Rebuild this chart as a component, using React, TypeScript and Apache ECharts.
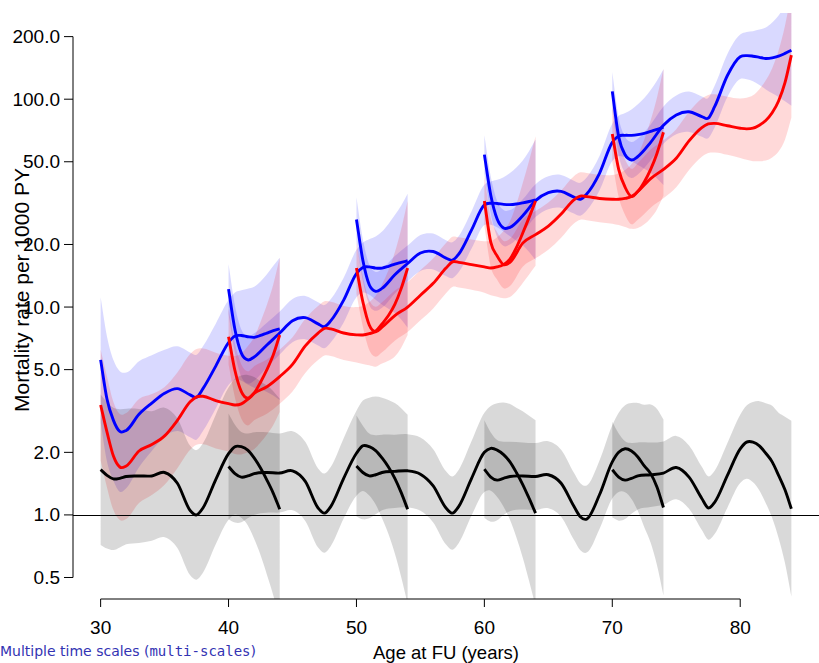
import React, { useEffect, useRef } from "react";
import * as echarts from "echarts";

// Entry ages of the five follow-up cohorts and the follow-up times (years since entry)
const entryAges = [30, 40, 50, 60, 70];
const followUp = [0, 0.5, 1, 1.5, 2, 3, 4, 5, 6, 7, 7.5, 8, 9, 10, 10.5, 11, 11.5, 12, 12.5, 13, 13.5, 14];

// Mortality rates per 1000 PY, blue group, one row per cohort
const rateBlue = [
  [5.57, 3.6, 2.85, 2.52, 2.55, 3.05, 3.45, 3.85, 4.05, 3.78, 3.68, 4.05, 5.2, 6.75, 7.25, 7.3, 7.2, 7.15, 7.3, 7.5, 7.7, 7.85],
  [12.2, 7.8, 6.0, 5.57, 5.75, 6.57, 7.5, 8.6, 8.9, 8.3, 8.05, 8.6, 10.8, 14.5, 15.5, 15.6, 15.4, 15.4, 15.7, 16.1, 16.4, 16.7],
  [26.4, 16.8, 12.8, 11.9, 12.3, 14.3, 16.2, 18.2, 18.5, 17.2, 16.8, 18.0, 23.5, 31.0, 31.6, 31.5, 31.2, 31.1, 31.3, 31.7, 32.2, 32.8],
  [54.1, 34.5, 26.5, 24.0, 24.2, 27.5, 32.5, 35.5, 36.0, 33.8, 33.0, 35.0, 44.0, 62.0, 66.5, 67.0, 67.0, 67.5, 68.5, 70.0, 71.5, 73.4],
  [109, 66, 54, 51, 53, 62, 75, 84, 87, 82.5, 81, 92, 130, 160, 162, 161, 159, 157, 158, 161, 166, 172],
];

// Mortality rates per 1000 PY, red group
const rateRed = [
  [3.38, 2.5, 1.92, 1.7, 1.72, 2.03, 2.18, 2.4, 2.85, 3.5, 3.7, 3.72, 3.55, 3.43, 3.38, 3.42, 3.6, 3.85, 4.35, 5.0, 5.9, 7.34],
  [7.2, 4.95, 3.92, 3.64, 3.85, 4.14, 4.63, 5.3, 6.5, 7.5, 7.9, 7.85, 7.5, 7.35, 7.34, 7.45, 7.65, 8.3, 9.1, 10.3, 12.3, 15.4],
  [15.4, 10.6, 8.2, 7.61, 8.0, 9.1, 10.0, 11.4, 13.0, 15.4, 16.5, 16.4, 16.0, 15.6, 15.4, 15.6, 16.0, 17.0, 19.3, 22.7, 27.0, 32.4],
  [32.4, 20.5, 17.6, 16.0, 16.4, 20.3, 22.3, 24.5, 28.0, 32.8, 34.2, 34.0, 33.3, 33.0, 33.0, 33.3, 34.0, 36.0, 40.0, 46.0, 55.0, 69.3],
  [68, 46, 37.7, 34.0, 36.0, 41.5, 46, 52, 63, 73, 76, 76.5, 74.5, 72.5, 72, 72.5, 75, 79, 86, 98, 120, 163],
];

// Rate ratio (blue / red)
const rateRatio = [
  [1.65, 1.55, 1.49, 1.5, 1.53, 1.54, 1.54, 1.6, 1.42, 1.05, 1.0, 1.08, 1.48, 1.97, 2.13, 2.13, 2.05, 1.88, 1.68, 1.47, 1.27, 1.065],
  [1.71, 1.58, 1.52, 1.54, 1.58, 1.6, 1.59, 1.63, 1.45, 1.08, 1.02, 1.1, 1.5, 1.98, 2.15, 2.13, 2.04, 1.88, 1.7, 1.5, 1.28, 1.065],
  [1.72, 1.6, 1.54, 1.56, 1.6, 1.62, 1.63, 1.57, 1.38, 1.08, 1.02, 1.1, 1.5, 2.0, 2.09, 2.05, 1.95, 1.8, 1.6, 1.4, 1.2, 1.02],
  [1.66, 1.52, 1.47, 1.5, 1.53, 1.54, 1.53, 1.56, 1.42, 1.1, 0.98, 0.955, 1.25, 1.8, 2.0, 2.08, 2.03, 1.9, 1.72, 1.58, 1.36, 1.085],
  [1.65, 1.52, 1.47, 1.5, 1.54, 1.56, 1.59, 1.69, 1.52, 1.2, 1.08, 1.15, 1.55, 2.08, 2.24, 2.24, 2.15, 1.98, 1.8, 1.55, 1.32, 1.07],
];

// Multiplicative half-widths of the 95% confidence bands (upper = est * w, lower = est / w)
const ciBlue = [
  [2.0, 2.0, 1.95, 1.95, 1.9, 1.8, 1.7, 1.62, 1.6, 1.6, 1.6, 1.6, 1.6, 1.6, 1.62, 1.65, 1.7, 1.75, 1.82, 1.92, 2.05, 2.2],
  [1.32, 1.3, 1.3, 1.3, 1.3, 1.28, 1.27, 1.27, 1.27, 1.27, 1.27, 1.27, 1.28, 1.3, 1.32, 1.36, 1.42, 1.5, 1.6, 1.72, 1.88, 2.1],
  [1.28, 1.26, 1.25, 1.24, 1.24, 1.23, 1.22, 1.22, 1.22, 1.22, 1.22, 1.22, 1.23, 1.25, 1.27, 1.3, 1.35, 1.42, 1.5, 1.6, 1.75, 1.95],
  [1.24, 1.23, 1.22, 1.22, 1.21, 1.2, 1.2, 1.2, 1.2, 1.2, 1.2, 1.2, 1.21, 1.23, 1.25, 1.28, 1.33, 1.4, 1.48, 1.58, 1.72, 1.9],
  [1.24, 1.23, 1.22, 1.22, 1.22, 1.22, 1.23, 1.24, 1.25, 1.25, 1.25, 1.26, 1.27, 1.28, 1.3, 1.32, 1.36, 1.41, 1.48, 1.57, 1.7, 1.85],
];
const ciRed = [
  [1.85, 1.85, 1.82, 1.8, 1.8, 1.78, 1.75, 1.72, 1.7, 1.7, 1.7, 1.7, 1.7, 1.7, 1.72, 1.75, 1.8, 1.86, 1.95, 2.05, 2.18, 2.35],
  [1.36, 1.35, 1.35, 1.35, 1.35, 1.35, 1.35, 1.35, 1.35, 1.35, 1.35, 1.35, 1.35, 1.36, 1.38, 1.42, 1.48, 1.55, 1.65, 1.78, 1.93, 2.1],
  [1.33, 1.32, 1.32, 1.32, 1.32, 1.32, 1.32, 1.32, 1.32, 1.32, 1.32, 1.32, 1.32, 1.33, 1.35, 1.39, 1.45, 1.52, 1.62, 1.74, 1.88, 2.05],
  [1.32, 1.31, 1.3, 1.3, 1.3, 1.3, 1.3, 1.3, 1.3, 1.3, 1.3, 1.3, 1.3, 1.31, 1.33, 1.37, 1.43, 1.5, 1.6, 1.72, 1.86, 2.02],
  [1.36, 1.36, 1.36, 1.36, 1.37, 1.38, 1.38, 1.38, 1.38, 1.38, 1.38, 1.38, 1.38, 1.39, 1.41, 1.44, 1.49, 1.56, 1.64, 1.75, 1.88, 2.0],
];
const ciRatio = [
  [2.3, 2.25, 2.2, 2.15, 2.12, 2.1, 2.05, 2.05, 2.05, 2.05, 2.05, 2.05, 2.05, 2.08, 2.12, 2.2, 2.3, 2.45, 2.62, 2.85, 3.1, 3.4],
  [1.8, 1.72, 1.65, 1.6, 1.58, 1.56, 1.55, 1.55, 1.55, 1.55, 1.55, 1.55, 1.56, 1.6, 1.65, 1.72, 1.82, 1.95, 2.1, 2.3, 2.55, 2.85],
  [1.75, 1.68, 1.6, 1.55, 1.52, 1.5, 1.5, 1.5, 1.5, 1.5, 1.5, 1.5, 1.51, 1.55, 1.6, 1.68, 1.78, 1.9, 2.05, 2.25, 2.5, 2.8],
  [1.72, 1.64, 1.56, 1.5, 1.47, 1.45, 1.45, 1.45, 1.45, 1.45, 1.45, 1.45, 1.46, 1.5, 1.55, 1.62, 1.7, 1.82, 1.97, 2.15, 2.38, 2.65],
  [1.7, 1.62, 1.54, 1.48, 1.45, 1.43, 1.42, 1.42, 1.42, 1.42, 1.42, 1.42, 1.43, 1.46, 1.5, 1.56, 1.64, 1.74, 1.86, 2.0, 2.25, 2.65],
];

// Axis ticks
const xTickValues = [30, 40, 50, 60, 70, 80];
const xTickLabels = ["30", "40", "50", "60", "70", "80"];
const yTickValues = [0.5, 1, 2, 5, 10, 20, 50, 100, 200];
const yTickLabels = ["0.5", "1.0", "2.0", "5.0", "10.0", "20.0", "50.0", "100.0", "200.0"];

// Plot limits (data range padded 4%)
const X_MIN = 27.84;
const X_MAX = 86.16;
const Y_MIN = 0.394;
const Y_MAX = 259.8;

const FONT = "'Liberation Sans', Arial, Helvetica, sans-serif";

type Piece = { start: number; est: number[]; w: number[]; fill: string; stroke: string };

const groups = [
  { rates: rateBlue, ci: ciBlue, fill: "rgba(0,0,255,0.15)", stroke: "#0000ff" },
  { rates: rateRed, ci: ciRed, fill: "rgba(255,0,0,0.15)", stroke: "#ff0000" },
  { rates: rateRatio, ci: ciRatio, fill: "rgba(0,0,0,0.15)", stroke: "#000000" },
];

const pieces: Piece[] = [];
groups.forEach((g) =>
  entryAges.forEach((start, p) =>
    pieces.push({ start, est: g.rates[p], w: g.ci[p], fill: g.fill, stroke: g.stroke })
  )
);
// estimates drawn with the ratio first, then blue, then red
const curveOrder = [10, 11, 12, 13, 14, 0, 1, 2, 3, 4, 5, 6, 7, 8, 9];

// Cubic Hermite path through pixel points (x-parametrised, three-point slopes)
function hermitePath(pts: number[][], lead: "M" | "L"): string {
  const n = pts.length;
  const m: number[] = [];
  for (let i = 0; i < n; i++) {
    if (i === 0) m.push((pts[1][1] - pts[0][1]) / (pts[1][0] - pts[0][0]));
    else if (i === n - 1) m.push((pts[n - 1][1] - pts[n - 2][1]) / (pts[n - 1][0] - pts[n - 2][0]));
    else {
      const h0 = pts[i][0] - pts[i - 1][0];
      const h1 = pts[i + 1][0] - pts[i][0];
      const s0 = (pts[i][1] - pts[i - 1][1]) / h0;
      const s1 = (pts[i + 1][1] - pts[i][1]) / h1;
      m.push((s0 * h1 + s1 * h0) / (h0 + h1));
    }
  }
  let d = `${lead}${pts[0][0]},${pts[0][1]}`;
  for (let i = 0; i < n - 1; i++) {
    const dx = pts[i + 1][0] - pts[i][0];
    d += ` C${pts[i][0] + dx / 3},${pts[i][1] + (m[i] * dx) / 3} ${pts[i + 1][0] - dx / 3},${pts[i + 1][1] - (m[i + 1] * dx) / 3} ${pts[i + 1][0]},${pts[i + 1][1]}`;
  }
  return d;
}

function renderBand(params: any, api: any) {
  const pc = pieces[params.dataIndex];
  const upper = followUp.map((t, i) => api.coord([pc.start + t, pc.est[i] * pc.w[i]]));
  const lower = followUp.map((t, i) => api.coord([pc.start + t, pc.est[i] / pc.w[i]])).reverse();
  const d = hermitePath(upper, "M") + " " + hermitePath(lower, "L") + " Z";
  return { type: "path", shape: { pathData: d }, style: { fill: pc.fill, lineWidth: 0 } };
}

function renderCurve(params: any, api: any) {
  const pc = pieces[curveOrder[params.dataIndex]];
  const pts = followUp.map((t, i) => api.coord([pc.start + t, pc.est[i]]));
  return {
    type: "path",
    shape: { pathData: hermitePath(pts, "M") },
    style: { fill: "none", stroke: pc.stroke, lineWidth: 2.9 },
  };
}

export default function App() {
  const ref = useRef<HTMLDivElement>(null);

  useEffect(() => {
    if (!ref.current) return;
    const chart = echarts.init(ref.current, null, { renderer: "svg" });
    chart.setOption({
      animation: false,
      backgroundColor: "#ffffff",
      grid: { left: 73, top: 13, width: 747, height: 586, containLabel: false },
      xAxis: {
        type: "value",
        min: X_MIN,
        max: X_MAX,
        axisLine: { show: false },
        axisTick: { show: false },
        axisLabel: { show: false },
        splitLine: { show: false },
      },
      yAxis: {
        type: "log",
        logBase: 10,
        min: Y_MIN,
        max: Y_MAX,
        axisLine: { show: false },
        axisTick: { show: false },
        axisLabel: { show: false },
        splitLine: { show: false },
      },
      series: [
        {
          type: "custom",
          clip: true,
          silent: true,
          z: 1,
          renderItem: renderBand,
          data: pieces.map((pc) => [pc.start, pc.est[0]]),
        },
        {
          type: "line",
          data: [],
          z: 2,
          markLine: {
            silent: true,
            symbol: ["none", "none"],
            label: { show: false },
            lineStyle: { color: "#000", width: 1, type: "solid" },
            data: [{ yAxis: 1 }],
          },
        },
        {
          type: "custom",
          clip: true,
          silent: true,
          z: 3,
          renderItem: renderCurve,
          data: curveOrder.map((k) => [pieces[k].start, pieces[k].est[0]]),
        },
      ],
    });

    const toX = (v: number) => chart.convertToPixel({ xAxisIndex: 0 }, v) as number;
    const toY = (v: number) => chart.convertToPixel({ yAxisIndex: 0 }, v) as number;
    const left = toX(X_MIN);
    const right = toX(X_MAX);
    const bottom = toY(Y_MIN);
    const axisStroke = { stroke: "#000", lineWidth: 1 };

    const g: any[] = [];
    // y axis
    g.push({ type: "line", z: 10, shape: { x1: left, y1: toY(yTickValues[0]), x2: left, y2: toY(yTickValues[yTickValues.length - 1]) }, style: axisStroke });
    yTickValues.forEach((v, i) => {
      const y = toY(v);
      g.push({ type: "line", z: 10, shape: { x1: left - 9, y1: y, x2: left, y2: y }, style: axisStroke });
      g.push({
        type: "text",
        z: 10,
        x: left - 13,
        y,
        style: { text: yTickLabels[i], align: "right", verticalAlign: "middle", fontSize: 19, fontFamily: FONT, fill: "#000" },
      });
    });
    // x axis
    g.push({ type: "line", z: 10, shape: { x1: toX(xTickValues[0]), y1: bottom, x2: toX(xTickValues[xTickValues.length - 1]), y2: bottom }, style: axisStroke });
    xTickValues.forEach((v, i) => {
      const x = toX(v);
      g.push({ type: "line", z: 10, shape: { x1: x, y1: bottom, x2: x, y2: bottom + 8 }, style: axisStroke });
      g.push({
        type: "text",
        z: 10,
        x,
        y: bottom + 28,
        style: { text: xTickLabels[i], align: "center", verticalAlign: "middle", fontSize: 19, fontFamily: FONT, fill: "#000" },
      });
    });
    // axis titles
    g.push({
      type: "text",
      z: 10,
      x: (left + right) / 2,
      y: 652,
      style: { text: "Age at FU (years)", align: "center", verticalAlign: "middle", fontSize: 18.5, fontFamily: FONT, fill: "#000" },
    });
    g.push({
      type: "text",
      z: 10,
      x: 21,
      y: 290,
      rotation: Math.PI / 2,
      style: { text: "Mortality rate per 1000 PY", align: "center", verticalAlign: "middle", fontSize: 21, fontFamily: FONT, fill: "#000" },
    });
    // footer
    g.push({
      type: "text",
      z: 10,
      x: 0,
      y: 651,
      style: {
        text: "{a|Multiple time scales (}{b|multi-scales}{a|)}",
        verticalAlign: "middle",
        rich: {
          a: { fontFamily: "'DejaVu Sans', sans-serif", fontSize: 14, fill: "#3333b3", color: "#3333b3" },
          b: { fontFamily: "'DejaVu Sans Mono', monospace", fontSize: 14, fill: "#3333b3", color: "#3333b3" },
        },
      },
    });

    chart.setOption({ graphic: g });
    return () => chart.dispose();
  }, []);

  return (
    <div
      ref={ref}
      style={{ position: "fixed", left: 0, top: 0, width: 819, height: 663, background: "#ffffff" }}
    />
  );
}
